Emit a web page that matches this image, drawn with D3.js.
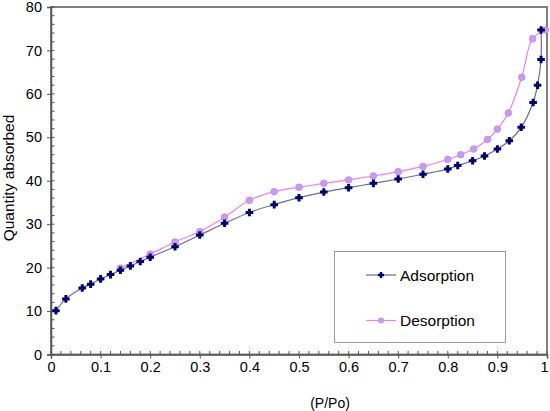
<!DOCTYPE html>
<html><head><meta charset="utf-8">
<script src="https://cdn.jsdelivr.net/npm/d3@7"></script>
<style>body{margin:0;background:#fff;}svg{display:block;font-family:"Liberation Sans",Arial,sans-serif;}</style>
</head><body>
<svg id="c" width="550" height="411"></svg>
<script>
const adsorptionX = [0.01,0.03,0.063,0.08,0.10,0.12,0.14,0.16,0.18,0.20,0.25,0.30,0.35,0.40,0.45,0.50,0.55,0.60,0.65,0.70,0.75,0.80,0.82,0.85,0.874,0.90,0.924,0.948,0.972,0.981,0.988,0.988];
const adsorptionY = [10.1,12.8,15.3,16.2,17.4,18.4,19.4,20.4,21.4,22.4,24.8,27.5,30.2,32.7,34.5,36.1,37.4,38.4,39.4,40.4,41.5,42.7,43.5,44.6,45.7,47.3,49.2,52.3,58.0,62.0,67.9,74.7];
const desorptionX = [0.997,0.971,0.949,0.922,0.90,0.88,0.852,0.826,0.80,0.75,0.70,0.65,0.60,0.55,0.50,0.45,0.40,0.35,0.30,0.25,0.20,0.14];
const desorptionY = [74.7,72.7,63.8,55.6,51.9,49.5,47.3,46.0,44.9,43.3,42.1,41.1,40.2,39.4,38.5,37.5,35.5,31.6,28.3,25.9,23.1,19.9];
const xTicks = [0,0.1,0.2,0.3,0.4,0.5,0.6,0.7,0.8,0.9,1];
const yTicks = [0,10,20,30,40,50,60,70,80];
const seriesNames = ["Adsorption","Desorption"];

const svg = d3.select("#c");
const L = 51, R = 547, T = 7, B = 354.5;
const x = d3.scaleLinear().domain([0,1]).range([L,R]);
const y = d3.scaleLinear().domain([0,80]).range([B,T]);

// frame
svg.append("rect").attr("x",L).attr("y",T).attr("width",R-L).attr("height",B-T)
  .attr("fill","none").attr("stroke","#808080").attr("stroke-width",2);

// minor ticks
const xMinor = d3.range(0,1.0001,0.02);
const yMinor = d3.range(0,80.001,2);
svg.append("g").selectAll("line").data(xMinor).join("line")
  .attr("x1",d=>x(d)).attr("x2",d=>x(d)).attr("y1",B).attr("y2",B-3.5)
  .attr("stroke","#555").attr("stroke-width",1);
svg.append("g").selectAll("line").data(yMinor).join("line")
  .attr("x1",L).attr("x2",L+3.5).attr("y1",d=>y(d)).attr("y2",d=>y(d))
  .attr("stroke","#555").attr("stroke-width",1);

// axes
const xAxis = svg.append("g").attr("transform",`translate(0,${B})`)
  .call(d3.axisBottom(x).tickValues(xTicks).tickFormat(d=>d3.format("")(d)).tickSize(4).tickPadding(6));
const yAxis = svg.append("g").attr("transform",`translate(${L},0)`)
  .call(d3.axisLeft(y).tickValues(yTicks).tickSize(4).tickPadding(5));
[xAxis,yAxis].forEach(g=>{
  g.select(".domain").attr("stroke","#555").attr("stroke-width",1.5);
  g.selectAll(".tick line").attr("stroke","#555");
  g.selectAll(".tick text").attr("fill","#000").style("font-size","14.5px").style("font-family","'Liberation Sans',Arial,sans-serif");
});
xAxis.selectAll(".tick text").attr("dy","0.55em");
xAxis.selectAll(".tick text").filter(d=>d===1).attr("dx","-3");

// titles
svg.append("text").attr("x",330).attr("y",408).attr("text-anchor","middle")
  .style("font-size","14px").text("(P/Po)");
svg.append("text").attr("transform","translate(14,178) rotate(-90)").attr("text-anchor","middle")
  .style("font-size","15.5px").text("Quantity absorbed");

// lines
const line = d3.line().x(d=>x(d[0])).y(d=>y(d[1])).curve(d3.curveCatmullRom.alpha(0.5));
const ads = adsorptionX.map((v,i)=>[v,adsorptionY[i]]);
const des = desorptionX.map((v,i)=>[v,desorptionY[i]]);
svg.append("path").datum(des).attr("d",line).attr("fill","none").attr("stroke","#f080f0").attr("stroke-width",1.2);
svg.append("path").datum(ads).attr("d",line).attr("fill","none").attr("stroke","#6a6aa0").attr("stroke-width",1.2);

// markers
const crossPath = "M-1.5,-3.8H1.5V-1.5H3.8V1.5H1.5V3.8H-1.5V1.5H-3.8V-1.5H-1.5Z";
svg.append("g").selectAll("circle").data(des).join("circle")
  .attr("cx",d=>x(d[0])).attr("cy",d=>y(d[1])).attr("r",3.4)
  .attr("fill","#c89af0").attr("stroke","#b884ee").attr("stroke-width",0.6);
svg.append("g").selectAll("path").data(ads).join("path")
  .attr("transform",d=>`translate(${x(d[0])},${y(d[1])})`).attr("d",crossPath)
  .attr("fill","#000070");

// legend
const lg = svg.append("g");
lg.append("rect").attr("x",334.5).attr("y",251.5).attr("width",171).attr("height",91)
  .attr("fill","#fff").attr("stroke","#999").attr("stroke-width",1);
const ly = [275,320.5];
seriesNames.forEach((n,i)=>{
  lg.append("line").attr("x1",366).attr("x2",396).attr("y1",ly[i]).attr("y2",ly[i])
    .attr("stroke",i===0?"#6a6aa0":"#f080f0").attr("stroke-width",1.2);
  if(i===0) lg.append("path").attr("transform",`translate(381,${ly[i]}) scale(0.8)`).attr("d",crossPath).attr("fill","#000070");
  else lg.append("circle").attr("cx",381).attr("cy",ly[i]).attr("r",3).attr("fill","#c89af0");
  lg.append("text").attr("x",400).attr("y",ly[i]+5.5).style("font-size","15.5px").text(n);
});
</script>
</body></html>
